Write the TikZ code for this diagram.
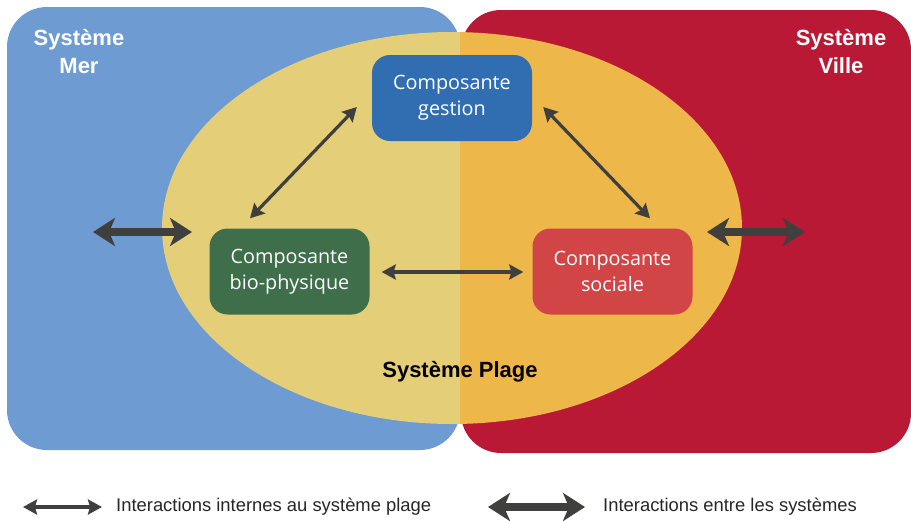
\documentclass[tikz,border=0pt]{standalone}
\usepackage{fontspec}
\setmainfont{Liberation Sans}
\newfontfamily\compfont{Open Sans}
\usetikzlibrary{arrows.meta}
\definecolor{merblue}{HTML}{6E9BD1}
\definecolor{villered}{HTML}{BA1935}
\definecolor{plageL}{HTML}{E5CE78}
\definecolor{plageR}{HTML}{EEB749}
\definecolor{gestblue}{HTML}{316EB1}
\definecolor{biogreen}{HTML}{3F6E4B}
\definecolor{socred}{HTML}{D14546}
\definecolor{arrowgray}{HTML}{3F403E}
\tikzset{
  comp/.style={rounded corners=18pt, minimum width=160pt, minimum height=86pt,
    inner sep=0pt, text=white, align=center,
    font=\compfont\fontsize{19.8}{26}\selectfont},
  thinarrow/.style={draw=arrowgray, line width=3.2pt,
    {Stealth[length=14pt,width=15pt,inset=2pt]}-{Stealth[length=14pt,width=15pt,inset=2pt]}},
  thickarrow/.style={draw=arrowgray, line width=8pt,
    {Stealth[length=22pt,width=28pt,inset=6pt]}-{Stealth[length=22pt,width=28pt,inset=6pt]}},
  syslabel/.style={text=white, align=center, font=\bfseries\fontsize{22}{28}\selectfont},
  legendtext/.style={anchor=west, inner sep=0pt, text=black!85, font=\fontsize{18.4}{22}\selectfont}
}
\begin{document}
\begin{tikzpicture}[x=1pt,y=-1pt]
\useasboundingbox (0,0) rectangle (911,520);
% systems
\fill[villered, rounded corners=40pt] (461,10) rectangle (911,453);
\fill[merblue, rounded corners=40pt] (7,7) rectangle (460,450);
% plage ellipse, two halves
\begin{scope}
  \clip (0,0) rectangle (460,520);
  \fill[plageL] (452,228) ellipse [x radius=290pt, y radius=196pt];
\end{scope}
\begin{scope}
  \clip (460,0) rectangle (911,520);
  \fill[plageR] (452,228) ellipse [x radius=290pt, y radius=196pt];
\end{scope}
% labels
\node[syslabel] (mer) at (79,52) {Système\\Mer};
\node[syslabel] (ville) at (841,52) {Système\\Ville};
\node[anchor=base, inner sep=0pt, font=\bfseries\fontsize{22}{24}\selectfont] (plage) at (460,377) {Système Plage};
% components
\node[comp, fill=gestblue] (gest) at (452,98) {Composante\\gestion};
\node[comp, fill=biogreen] (bio) at (289.5,271.5) {Composante\\bio-physique};
\node[comp, fill=socred] (soc) at (612.5,271.5) {Composante\\sociale};
% internal interactions
\draw[thinarrow] ([shift={(-39.5,-10)}]bio.north) -- ([shift={(-15,9)}]gest.west);
\draw[thinarrow] ([shift={(11,9)}]gest.east) -- ([shift={(37.5,-10)}]soc.north);
\draw[thinarrow] ([shift={(12,0.5)}]bio.east) -- ([shift={(-9,0.5)}]soc.west);
% system interactions
\coordinate (merA) at (93,232);
\coordinate (merB) at (192,232);
\coordinate (villeA) at (707,232);
\coordinate (villeB) at (805,232);
\draw[thickarrow] (merA) -- (merB);
\draw[thickarrow] (villeA) -- (villeB);
% legend
\coordinate (lgA) at (23,507);
\coordinate (lgB) at (102,507);
\coordinate (lgC) at (488,507);
\coordinate (lgD) at (585,507);
\draw[thinarrow] (lgA) -- (lgB);
\draw[thickarrow] (lgC) -- (lgD);
\node[legendtext] (lg1) at (116,507) {Interactions internes au système plage};
\node[legendtext] (lg2) at (603,507) {Interactions entre les systèmes};
\end{tikzpicture}
\end{document}
